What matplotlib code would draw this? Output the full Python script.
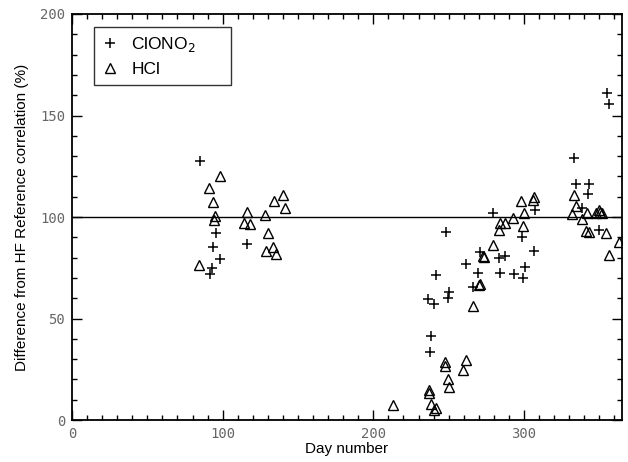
import matplotlib
matplotlib.use("Agg")
from matplotlib import pyplot as plt
from matplotlib.ticker import MultipleLocator

# ClONO2 points (day, % difference)
clono2_day = [85, 95.3, 93.8, 98.2, 93.1, 91.6, 116.3, 237.6, 238.2, 236.4, 240.2,
              241.5, 248, 249.7, 250.4, 261.2, 265.9, 269.6, 270.5, 279.2, 283.5,
              287.5, 284, 293.4, 298.6, 299.5, 300.6, 306.7, 307.5, 333.2, 334.5,
              343.2, 342.4, 338.6, 349.5, 354.8, 356.5]
clono2_val = [127.6, 92.2, 85.3, 79.4, 74.8, 72.1, 86.8, 33.5, 41.6, 59.4, 56.9,
              71.4, 92.4, 59.9, 63.0, 76.8, 65.5, 72.6, 82.8, 101.8, 80.0,
              81.0, 72.6, 71.8, 90.3, 69.8, 75.4, 83.1, 103.3, 129.2, 116.2,
              116.4, 111.4, 104.5, 93.4, 161.2, 155.9]

# HCl points
hcl_day = [84.3, 91.1, 93.3, 94.9, 94.2, 98.4, 116.3, 114.1, 118.1, 128.3, 130.3,
           128.9, 133.2, 135.4, 134.2, 140.2, 141.3, 213.2, 236.8, 237.2, 238.3,
           241.5, 240.2, 247.7, 247.7, 249.3, 250.4, 259.2, 261.4, 266.3, 270,
           270.8, 272.5, 273.6, 279.2, 283.2, 283.8, 287.3, 292.8, 299.4, 298.2,
           300.2, 306.2, 306.8, 331.6, 333.1, 334.2, 338.2, 341.9, 348, 349.5,
           350.5, 351.5, 340.9, 343, 354.3, 356.4, 363.2]
hcl_val = [76.6, 114.1, 107.5, 100.5, 98.4, 120.3, 102.5, 97.2, 96.7, 101, 91.9,
           83.3, 85.3, 82, 107.9, 110.7, 104.6, 7.5, 13.5, 15.0, 8.0,
           6.0, 4.8, 28.5, 26.8, 20.3, 16.2, 24.8, 29.4, 56.4, 66.7,
           67.0, 80.7, 80.2, 86.0, 93.5, 96.8, 97.0, 99.4, 95.7, 107.9,
           102.1, 108.5, 110.0, 101.3, 110.6, 105.2, 99.2, 102.1, 102.2, 103.3,
           102.5, 102.0, 93.0, 92.6, 92.0, 81.5, 87.8]

plt.rcParams['font.family'] = ['Liberation Sans', 'DejaVu Sans']

fig = plt.figure(figsize=(6.28, 4.62), dpi=100)
ax = fig.add_axes([0.1146, 0.0909, 0.8758, 0.8788])

ax.plot(clono2_day, clono2_val, linestyle='none', marker='+', markersize=7,
        markeredgewidth=1.1, color='black', label='ClONO$_2$')
ax.plot(hcl_day, hcl_val, linestyle='none', marker='^', markersize=7.5,
        markerfacecolor='none', markeredgewidth=1.0, color='black', label='HCl')
ax.axhline(100, color='black', linewidth=1.0)

ax.set_xlim(0, 365)
ax.set_ylim(0, 200)
ax.xaxis.set_major_locator(MultipleLocator(100))
ax.xaxis.set_minor_locator(MultipleLocator(10))
ax.yaxis.set_major_locator(MultipleLocator(50))
ax.yaxis.set_minor_locator(MultipleLocator(10))
ax.tick_params(which='both', direction='in', top=True, right=True, width=1.0)
ax.tick_params(which='major', length=7, labelsize=10, labelcolor='#666666', pad=5)
ax.tick_params(which='minor', length=3.5)
for lab in ax.get_xticklabels() + ax.get_yticklabels():
    lab.set_family('DejaVu Sans Mono')
for sp in ax.spines.values():
    sp.set_linewidth(1.3)

ax.set_xlabel('Day number', fontsize=11, labelpad=1)
ax.set_ylabel('Difference from HF Reference correlation (%)', fontsize=11, labelpad=8)

leg = ax.legend(loc='upper left', bbox_to_anchor=(0.04, 0.968, 0.249, 0.0),
                mode='expand', fontsize=12.5, frameon=True, fancybox=False,
                edgecolor='black', borderpad=0.45, handlelength=1.0,
                handletextpad=0.7, labelspacing=0.45, borderaxespad=0)
leg.get_frame().set_linewidth(1.0)

plt.savefig('out.png', dpi=100)
